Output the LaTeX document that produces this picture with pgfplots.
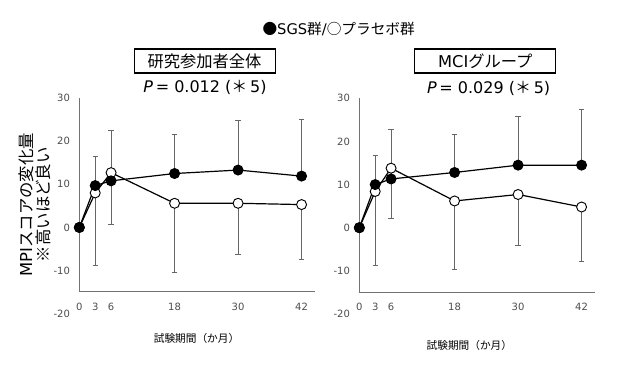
\documentclass[border=0pt]{standalone}
\usepackage{fontspec}
\setmainfont{DejaVu Sans}
\newfontfamily\jp{Noto Sans CJK JP}
\usepackage{pgfplots}
\pgfplotsset{compat=1.18}
\usepackage{pgfplotstable}

\pgfplotstableread{
x y e
0 0 0
3 9.7 6.8
6 10.8 11.7
18 12.5 9.0
30 13.3 11.4
42 11.9 13.1
}\sgsA
\pgfplotstableread{
x y e
0 0 0
3 8.0 16.9
6 12.7 11.9
18 5.6 16.0
30 5.6 11.8
42 5.3 12.8
}\plaA
\pgfplotstableread{
x y e
0 0 0
3 10.0 6.8
6 11.3 11.5
18 12.8 8.9
30 14.5 11.2
42 14.5 12.9
}\sgsB
\pgfplotstableread{
x y e
0 0 0
3 8.4 17.1
6 13.8 11.7
18 6.2 15.9
30 7.7 11.9
42 4.8 12.7
}\plaB

\pgfplotsset{
  mpi/.style={
    width=177pt, height=145.3pt, scale only axis,
    xmin=0, xmax=44.6, ymin=-14.9, ymax=30,
    axis lines*=left,
    axis line style={black!55, line width=0.75pt},
    xtick={0,3,6,18,30,42},
    ytick={-10,0,10,20,30},
    major tick length=0pt,
    /pgf/number format/assume math mode=true,
    tick label style={font=\fontsize{7.5}{8}\selectfont, text=black!70},
    yticklabel style={xshift=-3.5pt},
    xticklabel style={yshift=-5pt},
    clip=false,
    anchor=south west,
  },
  ebar/.style={draw=none, mark=none, forget plot,
    error bars/.cd, y dir=#1, y explicit,
    error bar style={draw=black!60, line width=0.6pt},
    error mark options={draw=black!60, mark size=2pt, line width=0.6pt, rotate=90}},
  sgs/.style={black, line width=0.9pt, mark=*, mark size=3.75pt,
    mark options={fill=black, draw=black, line width=0.7pt}},
  pla/.style={black, line width=0.9pt, mark=*, mark size=3.75pt,
    mark options={fill=white, draw=black, line width=0.7pt}},
}

\begin{document}
\begin{tikzpicture}
\useasboundingbox (0,0) rectangle (473.25pt,-276pt);

\begin{axis}[mpi, at={(59.5pt,-218.8pt)}]
\addplot[ebar=plus] table[x=x,y=y,y error=e]{\sgsA};
\addplot[ebar=minus] table[x=x,y=y,y error=e]{\plaA};
\addplot[pla] table[x=x,y=y]{\plaA};
\addplot[sgs] table[x=x,y=y]{\sgsA};
\node[anchor=east, font=\fontsize{7.5}{8}\selectfont, text=black!70, xshift=-3.5pt] at (axis cs:0,-20) {-20};
\end{axis}

\begin{axis}[mpi, at={(269.5pt,-219pt)}]
\addplot[ebar=plus] table[x=x,y=y,y error=e]{\sgsB};
\addplot[ebar=minus] table[x=x,y=y,y error=e]{\plaB};
\addplot[pla] table[x=x,y=y]{\plaB};
\addplot[sgs] table[x=x,y=y]{\sgsB};
\node[anchor=east, font=\fontsize{7.5}{8}\selectfont, text=black!70, xshift=-3.5pt] at (axis cs:0,-20) {-20};
\end{axis}

% titles
\node[font=\fontsize{11}{13}\selectfont] at (254pt,-21.75pt) {{\jp ●}SGS{\jp 群}/{\jp ○プラセボ群}};
\node[draw, line width=0.8pt, minimum width=105.75pt, minimum height=18pt, inner sep=0pt, font=\fontsize{12.2}{14}\selectfont\jp] at (153.4pt,-45.75pt) {研究参加者全体};
\node[draw, line width=0.8pt, minimum width=105.75pt, minimum height=18pt, inner sep=0pt, font=\fontsize{12.2}{14}\selectfont] at (364pt,-45.75pt) {MCI{\jp グループ}};
\node[font=\fontsize{12}{14}\selectfont] at (153.75pt,-65.5pt) {\textit{P}\,= 0.012 ({\jp ＊}\,5)};
\node[font=\fontsize{12}{14}\selectfont] at (366.5pt,-66pt) {\textit{P}\,= 0.029 ({\jp ＊}\,5)};
% y label
\node[rotate=90, align=center, font=\fontsize{12.3}{13}\selectfont] at (25.9pt,-153.5pt) {MPI{\jp スコアの変化量}\\{\jp ※高いほど良い}};
% x labels
\node[font=\fontsize{8}{10}\selectfont\jp] at (147.4pt,-253.5pt) {試験期間（か月）};
\node[font=\fontsize{8}{10}\selectfont\jp] at (352pt,-258.8pt) {試験期間（か月）};
\end{tikzpicture}
\end{document}
